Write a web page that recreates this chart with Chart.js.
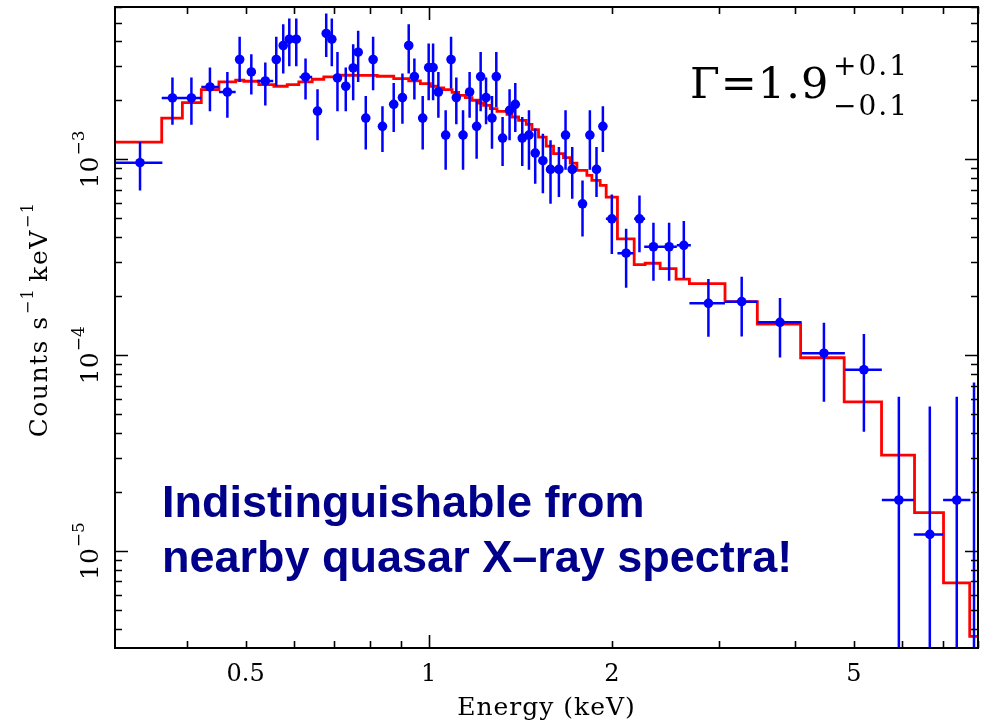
<!DOCTYPE html>
<html><head><meta charset="utf-8">
<script src="https://cdn.jsdelivr.net/npm/chart.js@4.4.1/dist/chart.umd.min.js"></script>
<style>html,body{margin:0;padding:0;background:#fff;}canvas{display:block;}</style>
</head><body>
<canvas id="c" width="987" height="721"></canvas>
<script>
// ---- data ----
const energy = [
 0.3353,0.3791,0.4073,0.4369,0.4667,0.4889,0.5110,0.5388,0.5616,0.5766,
 0.5900,0.6058,0.6274,0.6565,0.6785,0.6930,0.7080,0.7306,0.7514,0.7657,
 0.7881,0.8103,0.8395,0.8760,0.9054,0.9272,0.9473,0.9776,1.0000,1.0168,
 1.0374,1.0664,1.0884,1.1103,1.1389,1.1676,1.1990,1.2174,1.2425,1.2708,
 1.2917,1.3228,1.3583,1.3880,1.4251,1.4617,1.4967,1.5408,1.5860,1.6372,
 1.6788,1.7219,1.7902,1.8408,1.8876,1.9337,2.0003,2.1116,2.2209,2.3416,
 2.4847,2.6269,2.8832,3.2704,3.7806,4.4648,5.194,5.929,6.666,7.382,7.880];
const rate = [
 9.62e-4,2.059e-3,2.059e-3,2.343e-3,2.209e-3,3.236e-3,2.796e-3,2.515e-3,3.236e-3,3.815e-3,
 4.110e-3,4.110e-3,2.636e-3,1.766e-3,4.395e-3,4.110e-3,2.605e-3,2.363e-3,2.931e-3,3.526e-3,
 1.626e-3,3.236e-3,1.475e-3,1.911e-3,2.068e-3,3.815e-3,2.649e-3,1.626e-3,2.945e-3,2.945e-3,
 2.209e-3,1.331e-3,3.236e-3,2.068e-3,1.331e-3,2.209e-3,1.475e-3,2.649e-3,2.068e-3,1.626e-3,
 2.649e-3,1.285e-3,1.780e-3,1.911e-3,1.285e-3,1.331e-3,1.077e-3,9.85e-4,8.89e-4,8.89e-4,
 1.331e-3,8.89e-4,5.93e-4,1.331e-3,8.89e-4,1.475e-3,4.97e-4,3.32e-4,4.97e-4,3.58e-4,
 3.58e-4,3.64e-4,1.841e-4,1.878e-4,1.472e-4,1.024e-4,8.43e-5,1.823e-5,1.217e-5,1.823e-5,2.0e-6];
const rateHi = [
 1.226e-3,2.617e-3,2.617e-3,2.945e-3,2.796e-3,4.223e-3,3.444e-3,3.123e-3,4.223e-3,4.903e-3,
 5.245e-3,5.245e-3,3.274e-3,2.281e-3,5.564e-3,5.245e-3,3.538e-3,2.945e-3,3.875e-3,4.532e-3,
 2.108e-3,4.223e-3,1.867e-3,2.457e-3,2.744e-3,4.903e-3,3.274e-3,2.108e-3,3.907e-3,3.907e-3,
 2.796e-3,1.780e-3,4.223e-3,2.617e-3,1.780e-3,2.796e-3,2.004e-3,3.538e-3,2.617e-3,2.108e-3,
 3.538e-3,1.646e-3,2.281e-3,2.457e-3,1.646e-3,1.780e-3,1.436e-3,1.353e-3,1.251e-3,1.156e-3,
 1.780e-3,1.156e-3,7.81e-4,1.780e-3,1.156e-3,1.867e-3,6.62e-4,4.42e-4,6.55e-4,4.75e-4,
 4.75e-4,4.84e-4,2.45e-4,2.52e-4,1.962e-4,1.466e-4,1.283e-4,6.13e-5,5.47e-5,6.13e-5,7.26e-5];
const rateLo = [
 6.94e-4,1.505e-3,1.505e-3,1.760e-3,1.634e-3,2.486e-3,2.143e-3,1.882e-3,2.363e-3,2.744e-3,
 2.990e-3,2.990e-3,2.020e-3,1.251e-3,3.336e-3,2.990e-3,1.760e-3,1.760e-3,2.004e-3,2.486e-3,
 1.125e-3,2.254e-3,1.090e-3,1.379e-3,1.522e-3,2.744e-3,2.020e-3,1.125e-3,2.004e-3,2.004e-3,
 1.634e-3,8.86e-4,2.299e-3,1.510e-3,8.86e-4,1.634e-3,1.008e-3,1.760e-3,1.510e-3,1.134e-3,
 1.851e-3,9.24e-4,1.251e-3,1.379e-3,9.24e-4,8.86e-4,7.51e-4,6.72e-4,5.93e-4,6.42e-4,
 8.86e-4,6.30e-4,4.04e-4,8.86e-4,6.42e-4,1.090e-3,3.29e-4,2.21e-4,3.36e-4,2.40e-4,
 2.40e-4,2.47e-4,1.243e-4,1.248e-4,9.74e-5,5.78e-5,4.07e-5,1e-7,1e-7,1e-7,1e-7];
const binLo = [
 0.3059,0.364,0.3936,0.4228,0.452,null,null,0.5226,null,null,
 null,null,0.6133,null,null,null,null,null,null,null,
 null,null,null,null,null,null,null,null,null,null,
 null,null,null,null,null,null,null,null,null,null,
 null,null,null,null,null,null,null,null,null,null,
 null,null,null,null,null,null,1.9557,2.0433,2.1769,2.2607,
 2.417,2.5581,2.6831,3.0702,3.4696,4.103,4.833,5.559,6.274,7.010,7.773];
const binHi = [
 0.3649,0.3936,0.4228,0.452,0.4816,null,null,0.5552,null,null,
 null,null,0.6434,null,null,null,null,null,null,null,
 null,null,null,null,null,null,null,null,null,null,
 null,null,null,null,null,null,null,null,null,null,
 null,null,null,null,null,null,null,null,null,null,
 null,null,null,null,null,null,2.039,2.1709,2.269,2.417,
 2.5581,2.6975,3.0702,3.4696,4.103,4.833,5.559,6.274,7.010,7.773,8.0];
const modelEdges = [
 0.3059,0.364,0.3936,0.4228,0.452,0.4816,0.4968,0.5257,0.5565,0.5854,
 0.6116,0.6434,0.6723,0.7072,0.7529,0.823,0.876,0.9272,0.9691,1.0064,
 1.0323,1.0584,1.0926,1.12,1.1489,1.1783,1.2079,1.231,1.2626,1.295,
 1.345,1.3707,1.4055,1.4467,1.4783,1.5155,1.5605,1.6042,1.6658,1.7086,
 1.7526,1.82,1.8547,1.9138,1.958,2.0433,2.1769,2.269,2.4017,2.5512,
 2.6831,3.0702,3.4696,4.0877,4.8206,5.5527,6.2914,7.021,7.7531,8.0];
const modelValues = [
 1.226e-3,1.626e-3,1.950e-3,2.272e-3,2.486e-3,2.536e-3,2.506e-3,2.411e-3,2.363e-3,2.411e-3,
 2.486e-3,2.566e-3,2.636e-3,2.690e-3,2.685e-3,2.658e-3,2.587e-3,2.515e-3,2.439e-3,2.363e-3,
 2.315e-3,2.272e-3,2.201e-3,2.125e-3,2.068e-3,2.004e-3,1.941e-3,1.889e-3,1.817e-3,1.760e-3,
 1.699e-3,1.646e-3,1.583e-3,1.510e-3,1.419e-3,1.300e-3,1.170e-3,1.069e-3,1.020e-3,9.57e-4,
 8.78e-4,8.28e-4,7.81e-4,7.36e-4,6.42e-4,3.93e-4,2.90e-4,2.95e-4,2.77e-4,2.45e-4,
 2.32e-4,1.878e-4,1.444e-4,9.71e-5,5.78e-5,3.09e-5,1.570e-5,6.88e-6,3.67e-6];
const xTickValues = [0.5, 1, 2, 5];
const xTickLabels = ['0.5', '1', '2', '5'];
const yTickExponents = [-5, -4, -3];
const xRange = [0.305, 8.0];
const yRange = [3.2e-6, 6.0e-3];

// ---- datasets built from the arrays ----
const dots = energy.map((e, i) => ({x: e, y: rate[i]}));
const vbars = [];
energy.forEach((e, i) => { vbars.push({x: e, y: rateLo[i]}, {x: e, y: rateHi[i]}, {x: e, y: null}); });
const hbars = [];
energy.forEach((e, i) => { if (binLo[i] != null) hbars.push({x: binLo[i], y: rate[i]}, {x: binHi[i], y: rate[i]}, {x: binHi[i], y: null}); });
const model = modelValues.map((v, i) => ({x: modelEdges[i], y: v}));
model.push({x: modelEdges[modelEdges.length - 1], y: modelValues[modelValues.length - 1]});

const SERIF = '"DejaVu Serif", serif';

function drawSup(ctx, parts) {
  let x = 0;
  for (const [t, size, raise, gap] of parts) {
    ctx.font = size + 'px ' + SERIF;
    ctx.fillText(t, x, -raise);
    x += ctx.measureText(t).width + (gap || 0);
  }
  return x;
}
function measureParts(ctx, parts) {
  let x = 0;
  for (const [t, size, raise, gap] of parts) {
    ctx.font = size + 'px ' + SERIF;
    x += ctx.measureText(t).width + (gap || 0);
  }
  return x;
}

const decor = {
  id: 'decor',
  afterDatasetsDraw(chart) {
    const {ctx, chartArea: a, scales: {x, y}} = chart;
    ctx.save();
    // frame
    ctx.strokeStyle = '#000';
    ctx.lineWidth = 2;
    ctx.strokeRect(a.left, a.top, a.right - a.left, a.bottom - a.top);
    // inward ticks
    ctx.lineWidth = 1.6;
    ctx.beginPath();
    for (let d = -1; d <= 0; d++) for (let k = 1; k <= 9; k++) {
      const v = k * Math.pow(10, d);
      if (v < xRange[0] || v > xRange[1]) continue;
      const px = Math.round(x.getPixelForValue(v)) + 0.5;
      const len = k === 1 ? 13 : 7;
      ctx.moveTo(px, a.bottom); ctx.lineTo(px, a.bottom - len);
      ctx.moveTo(px, a.top); ctx.lineTo(px, a.top + len);
    }
    for (let d = -6; d <= -3; d++) for (let k = 1; k <= 9; k++) {
      const v = k * Math.pow(10, d);
      if (v < yRange[0] || v > yRange[1]) continue;
      const py = Math.round(y.getPixelForValue(v)) + 0.5;
      const len = k === 1 ? 13 : 7;
      ctx.moveTo(a.left, py); ctx.lineTo(a.left + len, py);
      ctx.moveTo(a.right, py); ctx.lineTo(a.right - len, py);
    }
    ctx.stroke();

    ctx.fillStyle = '#000';
    ctx.textBaseline = 'alphabetic';
    // x tick labels
    ctx.font = '24px ' + SERIF;
    ctx.textAlign = 'center';
    xTickValues.forEach((v, i) => ctx.fillText(xTickLabels[i], x.getPixelForValue(v), 681));
    // x title
    ctx.font = '25px ' + SERIF;
    ctx.letterSpacing = '1px';
    ctx.fillText('Energy (keV)', (a.left + a.right) / 2, 715);
    ctx.letterSpacing = '0px';
    ctx.textAlign = 'left';
    // y tick labels (rotated)
    yTickExponents.forEach(e => {
      const py = y.getPixelForValue(Math.pow(10, e));
      const parts = [['10', 25, 0, 1], ['\u2212' + Math.abs(e), 17, 14, 0]];
      const w = measureParts(ctx, parts);
      ctx.save();
      ctx.translate(98, py);
      ctx.rotate(-Math.PI / 2);
      ctx.translate(-w / 2, 0);
      drawSup(ctx, parts);
      ctx.restore();
    });
    // y title
    {
      ctx.save();
      ctx.letterSpacing = '1.5px';
      const parts = [['Counts s', 25, 0, 1], ['\u22121', 16, 14, 6], ['keV', 25, 0, 1], ['\u22121', 16, 14, 0]];
      const w = measureParts(ctx, parts);
      ctx.translate(47, (a.top + a.bottom) / 2 - 8);
      ctx.rotate(-Math.PI / 2);
      ctx.translate(-w / 2, 0);
      drawSup(ctx, parts);
      ctx.restore();
    }
    // Gamma annotation
    ctx.save();
    ctx.letterSpacing = '1px';
    ctx.font = '43px ' + SERIF;
    ctx.fillText('\u0393=1.9', 690, 98);
    ctx.letterSpacing = '2px';
    ctx.font = '28px ' + SERIF;
    ctx.fillText('+0.1', 833, 75);
    ctx.fillText('\u22120.1', 833, 115);
    ctx.restore();
    // message
    ctx.fillStyle = '#00008B';
    ctx.font = 'bold 45px "Liberation Sans", Arial, sans-serif';
    ctx.fillText('Indistinguishable from', 162, 517);
    ctx.fillText('nearby quasar X\u2013ray spectra!', 162, 572);
    ctx.restore();
  }
};

new Chart(document.getElementById('c'), {
  type: 'line',
  data: {
    datasets: [
      {label: 'model', data: model, borderColor: '#ff0000', borderWidth: 2.8, stepped: 'before',
       pointRadius: 0, fill: false, order: 3, borderJoinStyle: 'miter'},
      {label: 'yerr', data: vbars, borderColor: '#0000ff', borderWidth: 2.5, pointRadius: 0, spanGaps: false, order: 2},
      {label: 'xerr', data: hbars, borderColor: '#0000ff', borderWidth: 2.5, pointRadius: 0, spanGaps: false, order: 2},
      {label: 'data', data: dots, showLine: false, pointRadius: 4.8, pointBackgroundColor: '#0000ff',
       pointBorderWidth: 0, borderColor: '#0000ff', order: 1}
    ]
  },
  options: {
    responsive: false,
    animation: false,
    devicePixelRatio: 1,
    layout: {padding: {left: 115, right: 9, top: 7, bottom: 73}},
    plugins: {legend: {display: false}, tooltip: {enabled: false}},
    scales: {
      x: {type: 'logarithmic', bounds: 'data', min: xRange[0], max: xRange[1], display: false},
      y: {type: 'logarithmic', bounds: 'data', min: yRange[0], max: yRange[1], display: false}
    }
  },
  plugins: [decor]
});
</script>
</body></html>
